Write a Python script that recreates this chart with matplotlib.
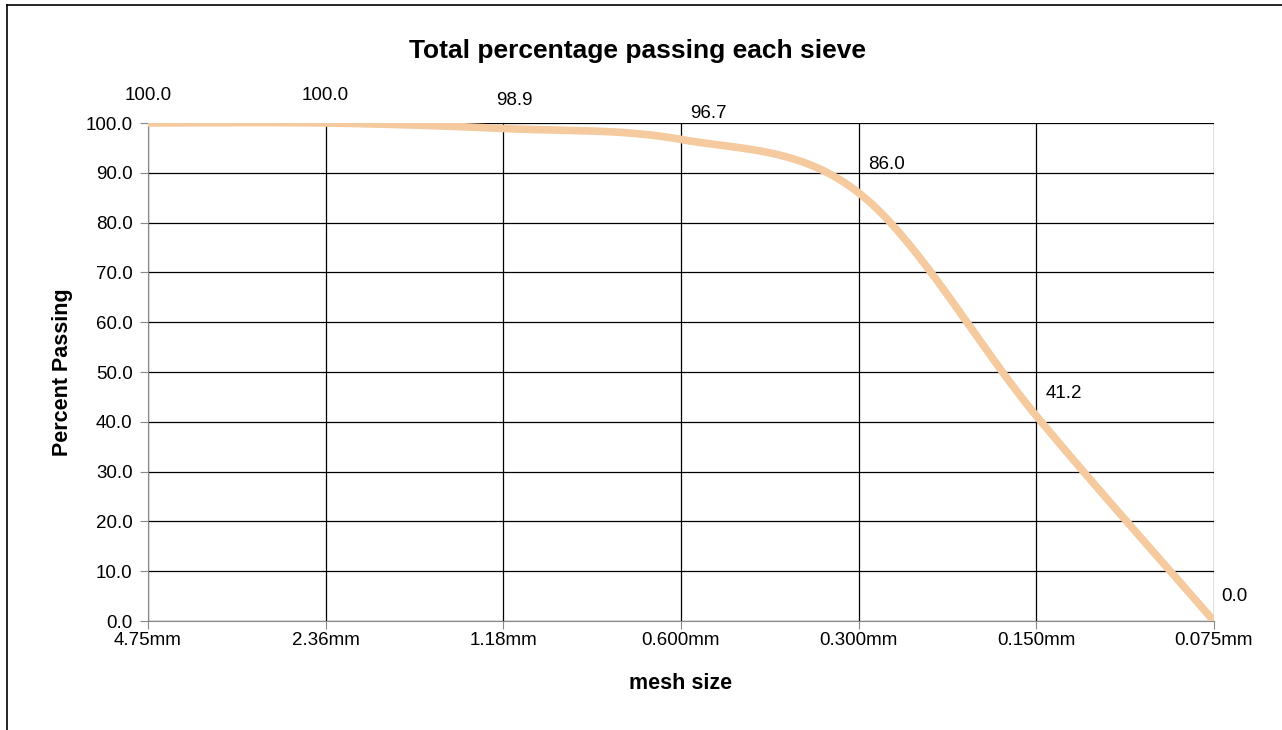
import numpy as np
import matplotlib
matplotlib.use('Agg')
import matplotlib.pyplot as plt
from matplotlib.lines import Line2D

plt.rcParams['font.family'] = ['Liberation Sans', 'DejaVu Sans']

# sieve sizes and cumulative percent passing
sieves = ['4.75mm', '2.36mm', '1.18mm', '0.600mm', '0.300mm', '0.150mm', '0.075mm']
passing = [100.0, 100.0, 98.9, 96.7, 86.0, 41.2, 0.0]

# label offsets in points (dx, dy), roughly where Excel put them
label_offsets = [(0, 20), (0, 20), (8, 20), (20, 19), (20, 20), (20, 16), (15, 18)]


def smooth_curve(xs, ys, n=40):
    """Excel-like smoothed line: cubic bezier through the points,
    control points from the neighbouring points (catmull-rom style)"""
    pts = np.column_stack([xs, ys]).astype(float)
    out = []
    for i in range(len(pts) - 1):
        p0 = pts[i - 1] if i > 0 else pts[i]
        p1 = pts[i]
        p2 = pts[i + 1]
        p3 = pts[i + 2] if i + 2 < len(pts) else pts[i + 1]
        c1 = p1 + (p2 - p0) / 6.0
        c2 = p2 - (p3 - p1) / 6.0
        t = np.linspace(0, 1, n)[:, None]
        seg = ((1 - t) ** 3) * p1 + 3 * ((1 - t) ** 2) * t * c1 + 3 * (1 - t) * t ** 2 * c2 + t ** 3 * p2
        out.append(seg if i == 0 else seg[1:])
    out = np.vstack(out)
    return out[:, 0], out[:, 1]


fig = plt.figure(figsize=(12.82, 7.30), dpi=100)
ax = fig.add_axes([0.1154, 0.1493, 0.8315, 0.6822])

x = np.arange(len(sieves))
sx, sy = smooth_curve(x, passing)

ax.set_xlim(0, len(sieves) - 1)
ax.set_ylim(0, 100)
ax.set_yticks(np.arange(0, 101, 10))
ax.set_yticklabels(['%.1f' % v for v in np.arange(0, 101, 10)], fontsize=13.5)
ax.set_xticks(x)
ax.set_xticklabels(sieves, fontsize=13.5)

ax.grid(True, color='black', linewidth=0.9)
ax.set_axisbelow(True)
for side in ['top', 'right']:
    ax.spines[side].set_visible(False)
ax.spines['left'].set_color('#888888')
ax.spines['bottom'].set_color('#888888')
ax.tick_params(axis='both', direction='out', length=6, color='#888888')
ax.tick_params(axis='y', pad=5)
ax.tick_params(axis='x', pad=2)

ax.plot(sx, sy, color='#F5CA9E', linewidth=5.5, solid_capstyle='round', zorder=3)

for xi, yi, (dx, dy) in zip(x, passing, label_offsets):
    ax.annotate('%.1f' % yi, (xi, yi), xytext=(dx, dy), textcoords='offset points',
                ha='center', va='center', fontsize=13.5, annotation_clip=False)

fig.text(0.497, 0.93, 'Total percentage passing each sieve', ha='center', va='center',
         fontsize=19, fontweight='bold')
ax.set_xlabel('mesh size', fontsize=15.5, fontweight='bold', labelpad=17)
ax.set_ylabel('Percent Passing', fontsize=15.5, fontweight='bold', labelpad=9)

# scanned frame edges (left and top)
fig.add_artist(Line2D([7 / 1282, 7 / 1282], [0, 1 - 5 / 730], color='black', linewidth=1.2))
fig.add_artist(Line2D([7 / 1282, 1], [1 - 5 / 730, 1 - 5 / 730], color='black', linewidth=1.2))

fig.savefig('out.png', dpi=100)
